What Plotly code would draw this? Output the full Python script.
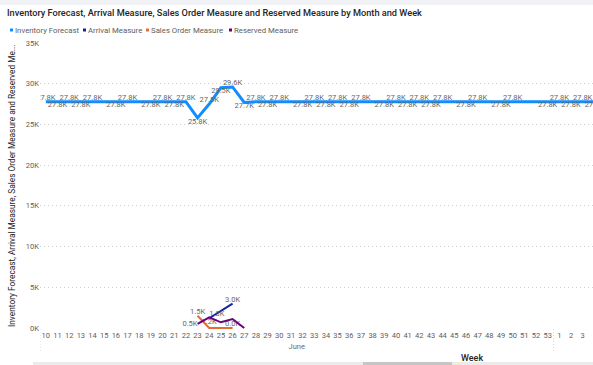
import plotly.graph_objects as go

# ---------------- data ----------------
week_labels = ["10", "11", "12", "13", "14", "15", "16", "17", "18", "19", "20", "21",
               "22", "23", "24", "25", "26", "27", "28", "29", "30", "31", "32", "33",
               "34", "35", "36", "37", "38", "39", "40", "41", "42", "43", "44", "45",
               "46", "47", "48", "49", "50", "51", "52", "53", "1", "2", "3", "4"]
month_label = "June"

inventory_forecast = [27800, 27800, 27800, 27800, 27800, 27800, 27800, 27800, 27800, 27800,
                      27800, 27800, 27800, 25800, 27500, 29500, 29600, 27700, 27800, 27800,
                      27800, 27800, 27800, 27800, 27800, 27800, 27800, 27800, 27800, 27800,
                      27800, 27800, 27800, 27800, 27800, 27800, 27800, 27800, 27800, 27800,
                      27800, 27800, 27800, 27800, 27800, 27800, 27800, 27800]

arrival_weeks = ["24", "25", "26"]
arrival_measure = [1200, 2100, 3000]

sales_weeks = ["23", "24", "25", "26"]
sales_order_measure = [1500, 0, 0, 0]

reserved_weeks = ["23", "24", "25", "26", "27"]
reserved_measure = [500, 1300, 700, 1100, 0]

y_ticks = [0, 5000, 10000, 15000, 20000, 25000, 30000, 35000]

chart_title = "Inventory Forecast, Arrival Measure, Sales Order Measure and Reserved Measure by Month and Week"
y_title = "Inventory Forecast, Arrival Measure, Sales Order Measure and Reserved Me..."
x_title = "Week"

# ---------------- styling (label placement as drawn by the report) ----------------
inv_label_pos = ["top", "bottom", "top", "bottom", "top", "", "bottom", "top", "", "bottom",
                 "top", "bottom", "top", "bottom", "top", "bottom", "top", "bottom", "top", "bottom",
                 "top", "", "bottom", "top", "bottom", "top", "bottom", "top", "", "bottom",
                 "top", "bottom", "top", "bottom", "top", "", "bottom", "top", "", "bottom",
                 "top", "", "", "bottom", "top", "bottom", "top", "bottom"]
arr_label_pos = ["bottom center", "", "top center"]
sal_label_pos = ["top center", "", "", "top center"]
res_label_pos = ["middle left", "top right", "", "", ""]

C_INV = "#118DFF"
C_ARR = "#12239E"
C_SAL = "#E66C37"
C_RES = "#6B007B"
FONT = "Roboto, sans-serif"
LABEL_COLOR = "#666666"
AXIS_TEXT = "#605E5C"

W, H = 593, 365
L, R, T, B = 40, 0, 43, 36
PW, PH = W - L - R, H - T - B
STEP = 11.67  # pixels per week slot


def px_x(x):
    return (x - L) / PW


def px_y(y):
    return (H - B - y) / PH


def fmt_k(v):
    return f"{v / 1000:.1f}K"


def idx(weeks):
    return [week_labels.index(w) for w in weeks]


x_all = list(range(len(week_labels)))

fig = go.Figure()

# Inventory forecast line + labels
fig.add_trace(go.Scatter(
    x=x_all, y=inventory_forecast, mode="lines", name="Inventory Forecast",
    line=dict(color=C_INV, width=3), showlegend=False))
for pos in ("top", "bottom"):
    xs = [x for x, p in zip(x_all, inv_label_pos) if p == pos]
    ys = [inventory_forecast[x] for x in xs]
    fig.add_trace(go.Scatter(
        x=xs, y=ys, mode="text", text=[fmt_k(v) for v in ys],
        textposition=pos + " center", showlegend=False, hoverinfo="skip",
        textfont=dict(size=7.5, color=LABEL_COLOR, family=FONT)))


def small_series(weeks, values, color, positions, name):
    xs = idx(weeks)
    fig.add_trace(go.Scatter(
        x=xs, y=values, mode="lines", name=name,
        line=dict(color=color, width=2), showlegend=False))
    lx = [x for x, p in zip(xs, positions) if p]
    lv = [v for v, p in zip(values, positions) if p]
    lp = [p for p in positions if p]
    fig.add_trace(go.Scatter(
        x=lx, y=lv, mode="text", text=[fmt_k(v) for v in lv], textposition=lp,
        showlegend=False, hoverinfo="skip",
        textfont=dict(size=7.5, color=LABEL_COLOR, family=FONT)))


small_series(arrival_weeks, arrival_measure, C_ARR, arr_label_pos, "Arrival Measure")
small_series(sales_weeks, sales_order_measure, C_SAL, sal_label_pos, "Sales Order Measure")
small_series(reserved_weeks, reserved_measure, C_RES, res_label_pos, "Reserved Measure")

# ---------------- layout ----------------
annotations = []
shapes = []

# legend (small squares + text)
legend_items = [("Inventory Forecast", C_INV, 10), ("Arrival Measure", C_ARR, 83),
                ("Sales Order Measure", C_SAL, 146), ("Reserved Measure", C_RES, 229)]
for text, col, x0 in legend_items:
    shapes.append(dict(type="rect", xref="paper", yref="paper",
                       x0=px_x(x0), x1=px_x(x0 + 3), y0=px_y(28.5), y1=px_y(31.5),
                       fillcolor=col, line=dict(width=0)))
    annotations.append(dict(text=text, xref="paper", yref="paper", x=px_x(x0 + 3), y=px_y(30),
                            xanchor="left", yanchor="middle", showarrow=False,
                            font=dict(size=7.8, color=AXIS_TEXT, family=FONT)))

# y axis title (rotated)
annotations.append(dict(text=y_title, xref="paper", yref="paper", x=px_x(12), y=px_y(186),
                        xanchor="center", yanchor="middle", textangle=-90, showarrow=False,
                        font=dict(size=8.3, color="#252423", family=FONT)))

# month group label: a transparent bracket under the June weeks, labelled in its middle
last_june = week_labels.index("53")
shapes.append(dict(type="line", xref="x", yref="paper", x0=-0.5, x1=last_june + 0.5,
                   y0=px_y(346), y1=px_y(346), line=dict(color="rgba(255,255,255,0)", width=1),
                   label=dict(text=month_label, textposition="middle", yanchor="middle",
                              font=dict(size=7.5, color="#6E6B69", family=FONT))))
annotations.append(dict(text=x_title, xref="paper", yref="paper", x=px_x(472), y=px_y(358),
                        xanchor="center", yanchor="middle", showarrow=False,
                        font=dict(size=9, color="#252423", family=FONT, weight=500)))

# group dividers (dotted)
for xd in (-0.5, last_june + 0.5):
    shapes.append(dict(type="line", xref="x", yref="paper", x0=xd, x1=xd,
                       y0=px_y(329), y1=px_y(353),
                       line=dict(color="#D6D6D6", width=1, dash="1px,2px")))

# top strip and scrollbar
shapes.append(dict(type="rect", xref="paper", yref="paper", x0=px_x(0), x1=px_x(W),
                   y0=px_y(0), y1=px_y(5), fillcolor="#F0F2F5", line=dict(width=0), layer="below"))
shapes.append(dict(type="rect", xref="paper", yref="paper", x0=px_x(33), x1=px_x(W),
                   y0=px_y(362), y1=px_y(365), fillcolor="#EDEBE9", line=dict(width=0)))
shapes.append(dict(type="rect", xref="paper", yref="paper", x0=px_x(363), x1=px_x(452),
                   y0=px_y(362), y1=px_y(365), fillcolor="#C8C6C4", line=dict(width=0)))

scale = PH / 35000.0
y_low = -(H - B - 328) / scale

fig.update_layout(
    width=W, height=H,
    margin=dict(l=L, r=R, t=T, b=B, autoexpand=False),
    paper_bgcolor="white", plot_bgcolor="white",
    hovermode=False,
    title=dict(text=chart_title, x=7 / W, xanchor="left", y=1 - 13 / H, yanchor="middle",
               font=dict(size=9.2, color="#252423", family=FONT, weight=500)),
    xaxis=dict(range=[-0.5, -0.5 + PW / STEP], tickmode="array", tickvals=x_all,
               ticktext=week_labels, showgrid=False, zeroline=False, showline=False,
               ticks="", automargin=False,
               tickfont=dict(size=7.5, color=AXIS_TEXT, family=FONT)),
    yaxis=dict(range=[y_low, 35000], tickmode="array", tickvals=y_ticks,
               ticktext=[f"{v // 1000}K" for v in y_ticks],
               showgrid=True, gridcolor="#D0D0D0", griddash="1px,3px", gridwidth=1,
               zeroline=False, showline=False, ticks="", automargin=False,
               tickfont=dict(size=7.5, color=AXIS_TEXT, family=FONT)),
    annotations=annotations,
    shapes=shapes,
    showlegend=False,
)

fig.write_html("out.html", config={"staticPlot": True, "displayModeBar": False},
               post_script="document.body.style.margin='0px';")
